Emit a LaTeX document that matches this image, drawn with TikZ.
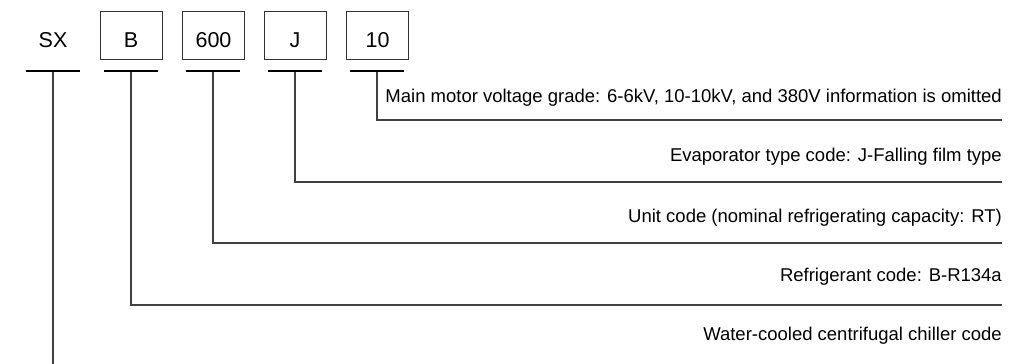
\documentclass[tikz,border=0pt]{standalone}
\usepackage{fontspec}
\setmainfont{Liberation Sans}
\usetikzlibrary{positioning}

\tikzset{
	codetext/.style={minimum width=62pt, minimum height=48pt, inner sep=0pt, text height=25pt, text depth=0pt, font=\fontsize{21.5}{26}\selectfont},
	codebox/.style={codetext, draw=black!80, line width=0.9pt},
	codebar/.style={fill=black, minimum width=54pt, minimum height=2.7pt, inner sep=0pt, outer sep=0pt},
	lead/.style={draw=black!75, line width=1.1pt},
	desc/.style={anchor=base east, inner sep=0pt, font=\fontsize{18.5}{22}\selectfont}
}

\begin{document}
\begin{tikzpicture}[x=1pt,y=1pt,yscale=-1]
		\useasboundingbox (0,0) rectangle (1031,364);
		
		% code letters
		\node [codetext] (sx) at (53,35) {SX};
		\node [codebox] (b) at (131,35) {B};
		\node [codebox] (cap) at (213.5,35) {600};
		\node [codebox] (j) at (295,35) {J};
		\node [codebox] (volt) at (377.5,35) {10};
		
		% bars under the codes
		\node [codebar] (sxbar) at (53,71) {};
		\node [codebar] (bbar) at (131,71) {};
		\node [codebar] (capbar) at (213,71) {};
		\node [codebar] (jbar) at (295,71) {};
		\node [codebar] (voltbar) at (377,71) {};
		
		% ends of the leaders
		\coordinate (voltend) at (1002,120);
		\coordinate (jend) at (1002,182);
		\coordinate (capend) at (1002,243);
		\coordinate (bend) at (1002,305);
		\coordinate (sxend) at (53,364);
		
		% leaders
		\draw [lead] (voltbar.south) |- (voltend);
		\draw [lead] (jbar.south) |- (jend);
		\draw [lead] (capbar.south) |- (capend);
		\draw [lead] (bbar.south) |- (bend);
		\draw [lead] (sxbar.south) -- (sxend);
		
		% descriptions
		\node [desc] (voltdesc) at (1002,102) {Main motor voltage grade: 6-6kV, 10-10kV, and 380V information is omitted};
		\node [desc] (jdesc) at (1002,161) {Evaporator type code: J-Falling film type};
		\node [desc] (capdesc) at (1002,222) {Unit code (nominal refrigerating capacity: RT)};
		\node [desc] (bdesc) at (1002,281) {Refrigerant code: B-R134a};
		\node [desc] (sxdesc) at (1002,340) {Water-cooled centrifugal chiller code};
		
\end{tikzpicture}
\end{document}
